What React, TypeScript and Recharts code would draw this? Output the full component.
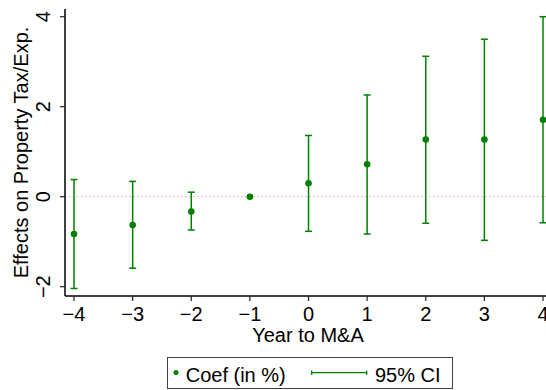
import React from 'react';
import { ComposedChart, Scatter, XAxis, YAxis, ErrorBar, ReferenceLine, Legend, Label } from 'recharts';

const years = [-4, -3, -2, -1, 0, 1, 2, 3, 4];
const coef = [-0.83, -0.63, -0.33, 0, 0.3, 0.72, 1.27, 1.27, 1.71];
const ciLow: (number | null)[] = [-2.04, -1.59, -0.74, null, -0.77, -0.83, -0.59, -0.97, -0.58];
const ciHigh: (number | null)[] = [0.38, 0.34, 0.1, null, 1.36, 2.26, 3.12, 3.5, 4.0];
const xTicks = [-4, -3, -2, -1, 0, 1, 2, 3, 4];
const yTicks = [-2, 0, 2, 4];
const legendLabels = ['Coef (in %)', '95% CI'];
const xTitle = 'Year to M&A';
const yTitle = 'Effects on Property Tax/Exp.';

const data = years.map((yr, i) => ({
  year: yr,
  coef: coef[i],
  err:
    ciLow[i] == null || ciHigh[i] == null
      ? null
      : [coef[i] - (ciLow[i] as number), (ciHigh[i] as number) - coef[i]],
}));

const GREEN = '#008000';
const FONT = '"Liberation Sans", Arial, Helvetica, sans-serif';
const fmt = (v: number) => (v < 0 ? '\u2212' + Math.abs(v) : String(v));

const XTick = (props: any) => {
  const { x, y, payload } = props;
  return (
    <text x={x} y={y + 18} textAnchor="middle" fontSize={20} fontFamily={FONT} fill="#000">
      {fmt(payload.value)}
    </text>
  );
};

const YTick = (props: any) => {
  const { x, y, payload } = props;
  const bx = x - 8;
  return (
    <text
      x={bx}
      y={y}
      transform={`rotate(-90 ${bx} ${y})`}
      textAnchor="middle"
      fontSize={20}
      fontFamily={FONT}
      fill="#000"
    >
      {fmt(payload.value)}
    </text>
  );
};

const XTitle = (props: any) => {
  const vb = props.viewBox || { x: 57, y: 288, width: 481, height: 60 };
  return (
    <text x={vb.x + vb.width / 2 + 2.5} y={vb.y + 45.7} textAnchor="middle" fontSize={20} fontFamily={FONT} fill="#000">
      {xTitle}
    </text>
  );
};

const YTitle = (props: any) => {
  const vb = props.viewBox || { x: 0, y: 1, width: 57, height: 287 };
  const cx = 20.3;
  const cy = vb.y + vb.height / 2;
  return (
    <text x={cx} y={cy} transform={`rotate(-90 ${cx} ${cy})`} textAnchor="middle" fontSize={20} fontFamily={FONT} fill="#000">
      {yTitle}
    </text>
  );
};

const Dot = (props: any) => {
  const { cx, cy } = props;
  if (cx == null || cy == null) return null;
  return <circle cx={cx} cy={cy} r={3.3} fill={GREEN} />;
};

const LegendBox = () => (
  <div style={{ height: 34, width: 538, position: 'relative' }}>
    <svg
      width={286}
      height={32}
      style={{ position: 'absolute', left: 159, top: 1, display: 'block', overflow: 'visible' }}
    >
      <rect x={0.5} y={0.5} width={285} height={31} fill="#fff" stroke="#404040" strokeWidth={1} />
      <circle cx={9} cy={15.5} r={2.5} fill={GREEN} />
      <text x={18.7} y={25} fontSize={20} fontFamily={FONT} fill="#000">
        {legendLabels[0]}
      </text>
      <line x1={144.7} y1={15.7} x2={199.7} y2={15.7} stroke={GREEN} strokeWidth={1.3} />
      <line x1={144.7} y1={13.5} x2={144.7} y2={18} stroke={GREEN} strokeWidth={1.3} />
      <line x1={199.7} y1={13.5} x2={199.7} y2={18} stroke={GREEN} strokeWidth={1.3} />
      <text x={208} y={25} fontSize={20} fontFamily={FONT} fill="#000">
        {legendLabels[1]}
      </text>
    </svg>
  </div>
);

export default function App() {
  return (
    <div style={{ width: 538, height: 382 }}>
      <style>{'html{overflow:hidden;} body{margin:8px 0 0 8px;overflow:visible;} #root{width:538px;height:382px;}'}</style>
      <ComposedChart width={538} height={382} data={data} margin={{ top: 1, right: 0, bottom: 0, left: 0 }}>
        <XAxis
          xAxisId="top"
          orientation="top"
          type="number"
          dataKey="year"
          domain={[-4.154, 4.051]}
          allowDataOverflow
          tick={false}
          tickLine={false}
          height={0}
          axisLine={{ stroke: '#000', strokeWidth: 1.5 }}
        />
        <XAxis
          type="number"
          dataKey="year"
          domain={[-4.154, 4.051]}
          allowDataOverflow
          ticks={xTicks}
          interval={0}
          tick={<XTick />}
          tickSize={5}
          height={60}
          axisLine={{ stroke: '#000', strokeWidth: 1.5 }}
          tickLine={{ stroke: '#222', strokeWidth: 1.2 }}
        >
          <Label content={<XTitle />} />
        </XAxis>
        <YAxis
          type="number"
          domain={[-2.207, 4.171]}
          allowDataOverflow
          ticks={yTicks}
          interval={0}
          width={57}
          tick={<YTick />}
          tickSize={5}
          axisLine={{ stroke: '#000', strokeWidth: 1.5 }}
          tickLine={{ stroke: '#222', strokeWidth: 1.2 }}
        >
          <Label content={<YTitle />} />
        </YAxis>
        <ReferenceLine y={0} stroke="#e8a4b4" strokeWidth={1} strokeDasharray="1.5 2.5" ifOverflow="extendDomain" />
        <Scatter dataKey="coef" fill={GREEN} shape={<Dot />} isAnimationActive={false} legendType="circle" name={legendLabels[0]}>
          <ErrorBar dataKey="err" direction="y" width={3.5} stroke={GREEN} strokeWidth={1.5} isAnimationActive={false} />
        </Scatter>
        <Legend verticalAlign="bottom" content={<LegendBox />} wrapperStyle={{ left: 0, width: 538, height: 34 }} />
      </ComposedChart>
    </div>
  );
}
